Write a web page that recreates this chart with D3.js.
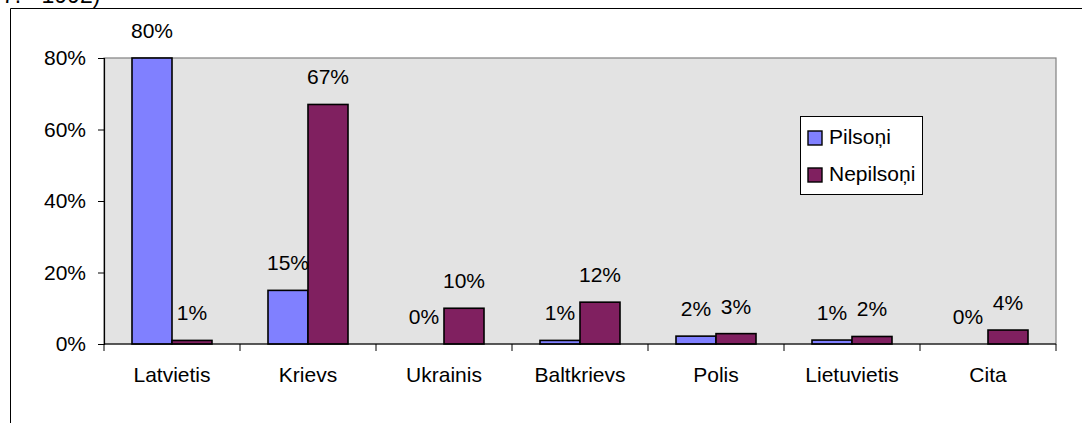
<!DOCTYPE html>
<html><head><meta charset="utf-8">
<script src="https://cdn.jsdelivr.net/npm/d3@7"></script>
<style>body{margin:0;background:#fff;} svg{display:block;} text{font-family:"Liberation Sans",Arial,sans-serif;fill:#000;}</style>
</head><body>
<svg id="c" width="1082" height="423"></svg>
<script>
const categories = ["Latvietis","Krievs","Ukrainis","Baltkrievs","Polis","Lietuvietis","Cita"];
const seriesNames = ["Pilsoņi","Nepilsoņi"];
const pilsoni = [80, 15, 0, 1, 2.2, 1.1, 0];
const nepilsoni = [1, 67, 10, 11.7, 2.9, 2.1, 3.9];
const yTicks = [0, 20, 40, 60, 80];
const colors = ["#8080ff", "#802060"];
const titleText = "7. - 1992)";

const svg = d3.select("#c");
const W = 1082, H = 423;
const plot = {left:104, right:1056, top:58, bottom:344};
const fs = 21;

// partially visible title
svg.append("text").attr("x", 2).attr("y", 3).attr("font-size", 23).text(titleText);

// chart area border (left & top)
svg.append("path").attr("d", `M10.5,${H} L10.5,8.5 L${W},8.5`).attr("fill","none").attr("stroke","#000").attr("stroke-width",1);

const x0 = d3.scaleBand().domain(categories).range([plot.left, plot.right]).paddingInner(0).paddingOuter(0);
const x1 = d3.scaleBand().domain(seriesNames).range([0, x0.bandwidth()]).paddingInner(0).paddingOuter(0.7);
const y = d3.scaleLinear().domain([0, 80]).range([plot.bottom, plot.top]);

// plot background
svg.append("rect").attr("x", plot.left).attr("y", plot.top)
  .attr("width", plot.right-plot.left).attr("height", plot.bottom-plot.top)
  .attr("fill", "#e3e3e3").attr("stroke", "#808080").attr("stroke-width", 1.2);

const data = categories.map((c,i)=>({cat:c, vals:[pilsoni[i], nepilsoni[i]]}));
const g = svg.append("g");
const groups = g.selectAll("g.cat").data(data).join("g").attr("transform", d=>`translate(${x0(d.cat)},0)`);
groups.selectAll("rect").data(d=>d.vals.map((v,j)=>({v, s:seriesNames[j], j})))
  .join("rect")
  .attr("x", d=>x1(d.s)).attr("width", x1.bandwidth())
  .attr("y", d=>y(d.v)).attr("height", d=>plot.bottom - y(d.v))
  .attr("fill", d=>colors[d.j]).attr("stroke", "#000").attr("stroke-width", 1.6)
  .attr("display", d=>d.v>0?null:"none");
const fmt = v => d3.format(".0%")(v/100);
groups.selectAll("text").data(d=>d.vals.map((v,j)=>({v, s:seriesNames[j], j})))
  .join("text")
  .attr("x", d=>x1(d.s)+x1.bandwidth()/2).attr("y", d=>y(d.v)-20)
  .attr("text-anchor","middle").attr("font-size", fs).text(d=>fmt(d.v));

// y axis
const yAxis = d3.axisLeft(y).tickValues(yTicks).tickFormat(d=>d+"%").tickSize(6).tickPadding(12);
const ya = svg.append("g").attr("transform", `translate(${plot.left},0)`).call(yAxis);
ya.select(".domain").attr("stroke","#000").attr("stroke-width",1.2);
ya.selectAll("text").attr("font-size", fs).attr("font-family",'"Liberation Sans",Arial,sans-serif');
ya.selectAll("line").attr("stroke","#000");

// x axis
const xTickScale = d3.scaleLinear().domain([0, categories.length]).range([plot.left, plot.right]);
const xa = svg.append("g").attr("transform", `translate(0,${plot.bottom})`);
xa.append("line").attr("x1", plot.left).attr("x2", plot.right).attr("stroke","#000").attr("stroke-width",1.2);
xa.selectAll("line.t").data(d3.range(categories.length+1)).join("line").attr("class","t")
  .attr("x1", d=>xTickScale(d)).attr("x2", d=>xTickScale(d)).attr("y1", 0).attr("y2", 7).attr("stroke","#000");
xa.selectAll("text").data(categories).join("text")
  .attr("x", d=>x0(d)+x0.bandwidth()/2).attr("y", 38).attr("text-anchor","middle").attr("font-size", fs).text(d=>d);

// legend
const lg = svg.append("g").attr("transform","translate(800,116)");
lg.append("rect").attr("x",0.5).attr("y",0.5).attr("width",122).attr("height",78).attr("fill","#fff").attr("stroke","#000");
seriesNames.forEach((s,i)=>{
  const yy = 15 + i*37;
  lg.append("rect").attr("x",8).attr("y",yy).attr("width",14).attr("height",14).attr("fill",colors[i]).attr("stroke","#000").attr("stroke-width",1.4);
  lg.append("text").attr("x",29).attr("y",yy+13).attr("font-size",fs).text(s);
});
</script>
</body></html>
